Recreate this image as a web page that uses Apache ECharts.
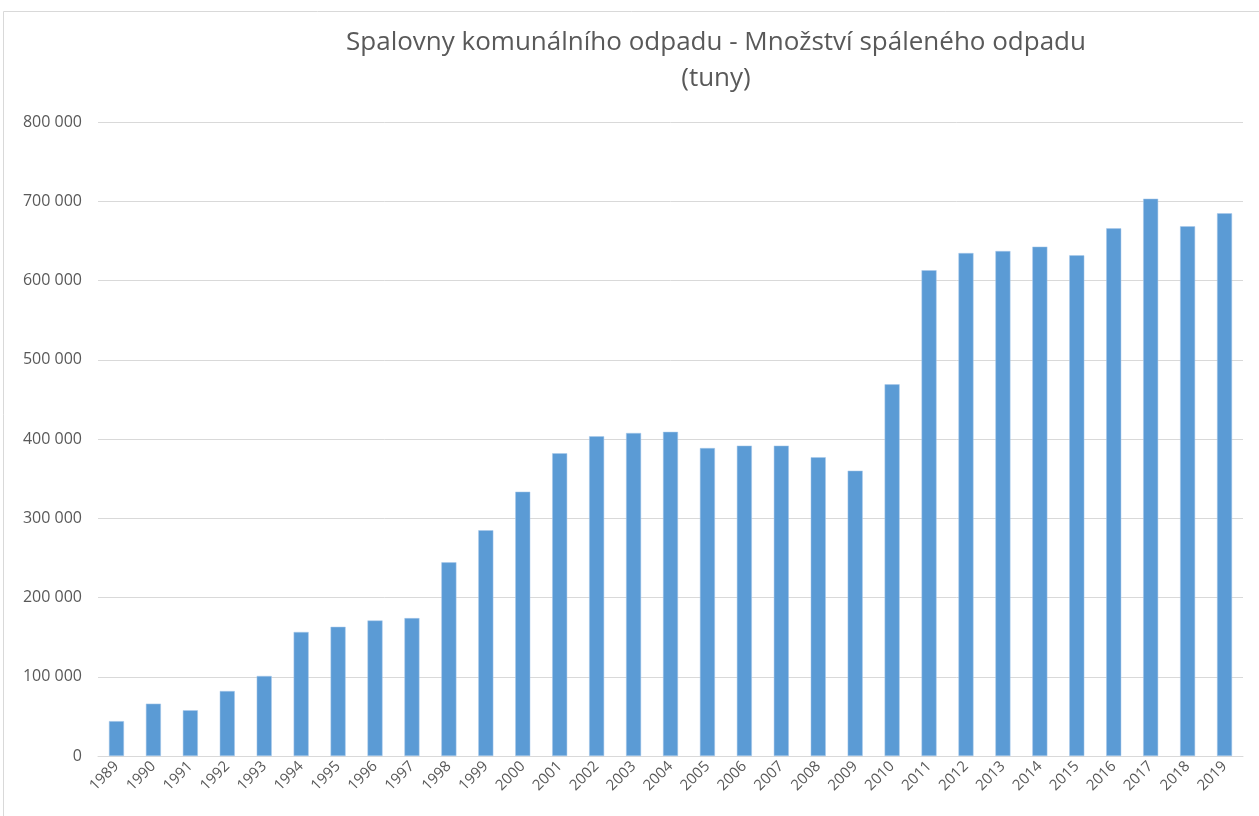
<!DOCTYPE html>
<html><head><meta charset="utf-8">
<script src="https://cdn.jsdelivr.net/npm/echarts@6/dist/echarts.min.js"></script>
<style>html,body{margin:0;padding:0;background:#fff}#c{width:1259px;height:816px}</style>
</head><body><div id="c"></div>
<script>
const years = ['1989','1990','1991','1992','1993','1994','1995','1996','1997','1998','1999','2000','2001','2002','2003','2004','2005','2006','2007','2008','2009','2010','2011','2012','2013','2014','2015','2016','2017','2018','2019'];
const values = [44000,66000,57700,82000,101000,156500,163000,171000,174000,244400,284800,333500,382000,403400,407600,409000,388600,391600,391600,377000,360000,469000,612900,634700,637200,642700,631800,665800,703200,668400,684800];
const titleLines = ['Spalovny komunálního odpadu - Množství spáleného odpadu', '(tuny)'];
const yTicks = [0,100000,200000,300000,400000,500000,600000,700000,800000];

const chart = echarts.init(document.getElementById('c'));
const FONT = '"Open Sans", "Noto Sans", sans-serif';
chart.setOption({
  animation: false,
  backgroundColor: '#fff',
  graphic: [
    {type:'rect', shape:{x:3.5,y:11.5,width:1300,height:900}, style:{fill:'none', stroke:'#d9d9d9', lineWidth:1}},
    {type:'text', x:716, y:43, style:{text:titleLines[0], fill:'#595959', font:'26px '+FONT, textAlign:'center', textVerticalAlign:'middle'}},
    {type:'text', x:716, y:79, style:{text:titleLines[1], fill:'#595959', font:'26px '+FONT, textAlign:'center', textVerticalAlign:'middle'}}
  ],
  grid: {left: 98, right: 16, top: 122, bottom: 60, containLabel: false},
  xAxis: {
    type: 'category', data: years,
    axisLine: {lineStyle: {color: '#d9d9d9'}},
    axisTick: {show: false},
    axisLabel: {rotate: 45, color: '#595959', fontSize: 15, fontFamily: FONT, margin: 8, interval: 0}
  },
  yAxis: {
    type: 'value', min: yTicks[0], max: yTicks[yTicks.length-1], interval: 100000,
    axisLine: {show: false}, axisTick: {show: false},
    splitLine: {lineStyle: {color: '#d9d9d9'}},
    axisLabel: {color: '#595959', fontSize: 16, fontFamily: FONT, margin: 16,
      formatter: v => v === 0 ? '0' : String(v).replace(/\B(?=(\d{3})+(?!\d))/g, ' ')}
  },
  series: [{
    type: 'bar', data: values, barWidth: 15,
    itemStyle: {color: '#5b9bd5', borderColor: '#a9c8ea', borderWidth: 0.5}
  }]
});
</script></body></html>
